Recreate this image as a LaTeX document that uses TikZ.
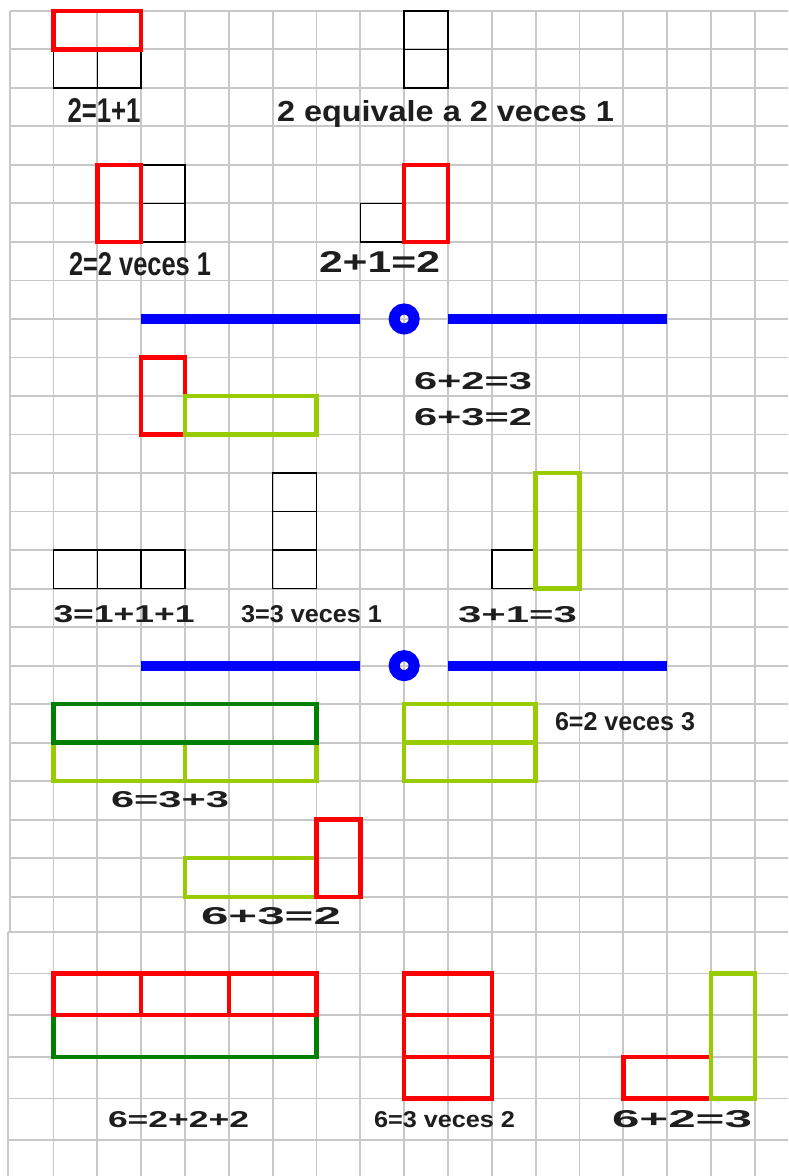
\documentclass[tikz,border=0pt]{standalone}
\usepackage{fontspec}
\setmainfont{Liberation Sans}
\usepackage{graphicx}
\definecolor{gridgray}{HTML}{C8C8C8}
\definecolor{redc}{HTML}{FF0000}
\definecolor{ygreen}{HTML}{99CC00}
\definecolor{dgreen}{HTML}{008000}
\definecolor{bluec}{HTML}{0000FF}
\definecolor{txtc}{HTML}{1E1E1E}
\begin{document}
\begin{tikzpicture}[x=0.5pt,y=-0.5pt,
  declare function={X(\i)=9.7+43.83*\i; Y(\j)=10.8+38.52*\j; B(\k)=931.7+41.7*\k;},
  gridl/.style={draw=gridgray,line width=0.9pt},
  blk/.style={draw=black,line width=0.8pt},
  redbox/.style={draw=redc,line width=2.25pt},
  ygbox/.style={draw=ygreen,line width=2.25pt},
  dgbox/.style={draw=dgreen,line width=2.25pt},
  blueline/.style={draw=bluec,line width=5pt,line cap=butt},
  bluering/.style={draw=bluec,line width=5.5pt},
  lbl/.style={inner sep=0pt,outer sep=0pt,anchor=base west,text=txtc,font=\bfseries}]
\fill[white] (0,0) rectangle (788,1176);
\useasboundingbox (0,0) rectangle (788,1176);
% ---------- grid, upper sheet ----------
\foreach \i in {0,...,17} \draw[gridl] ({X(\i)},{Y(0)}) -- ({X(\i)},931.7);
\foreach \j in {0,...,23} \draw[gridl] ({X(0)},{Y(\j)}) -- (788,{Y(\j)});
% ---------- grid, lower sheet ----------
\draw[gridl] (8,931.7) -- (8,1176);
\foreach \i in {1,...,17} \draw[gridl] ({X(\i)},931.7) -- ({X(\i)},1176);
\foreach \k in {0,...,5} \draw[gridl] (8,{B(\k)}) -- (788,{B(\k)});
% ---------- row 1 ----------
\draw[blk] ({X(1)},{Y(1)}) rectangle ({X(2)},{Y(2)});
\draw[blk] ({X(2)},{Y(1)}) rectangle ({X(3)},{Y(2)});
\draw[redbox] ({X(1)},{Y(0)}) rectangle ({X(3)},{Y(1)});
\node[lbl] (t1) at (67.5,123) {\resizebox{36.5pt}{12pt}{2=1+1}};
\draw[blk] ({X(9)},{Y(0)}) rectangle ({X(10)},{Y(1)});
\draw[blk] ({X(9)},{Y(1)}) rectangle ({X(10)},{Y(2)});
\node[lbl] (t2) at (277,121.5) {\resizebox{168.5pt}{10.5pt}{2 equivale a 2 veces 1}};
% ---------- row 2 ----------
\draw[blk] ({X(3)},{Y(4)}) rectangle ({X(4)},{Y(5)});
\draw[blk] ({X(3)},{Y(5)}) rectangle ({X(4)},{Y(6)});
\draw[redbox] ({X(2)},{Y(4)}) rectangle ({X(3)},{Y(6)});
\node[lbl] (t3) at (69,276) {\resizebox{71pt}{11.5pt}{2=2 veces 1}};
\draw[blk] ({X(8)},{Y(5)}) rectangle ({X(9)},{Y(6)});
\draw[redbox] ({X(9)},{Y(4)}) rectangle ({X(10)},{Y(6)});
\node[lbl] (t4) at (319,273) {\resizebox{60.5pt}{10.5pt}{2+1=2}};
% ---------- separator 1 ----------
\draw[blueline] ({X(3)},{Y(8)}) -- ({X(8)},{Y(8)});
\draw[bluering] ({X(9)},{Y(8)}) circle[radius=5pt];
\draw[blueline] ({X(10)},{Y(8)}) -- ({X(15)},{Y(8)});
% ---------- row 3 ----------
\draw[redbox] ({X(3)},{Y(9)}) rectangle ({X(4)},{Y(11)});
\draw[ygbox] ({X(4)},{Y(10)}) rectangle ({X(7)},{Y(11)});
\node[lbl] (t5) at (414,389) {\resizebox{59pt}{8.5pt}{6+2=3}};
\node[lbl] (t6) at (414,425) {\resizebox{59pt}{8.5pt}{6+3=2}};
% ---------- row 4 ----------
\foreach \i in {1,2,3} \draw[blk] ({X(\i)},{Y(14)}) rectangle ({X(\i+1)},{Y(15)});
\foreach \j in {12,13,14} \draw[blk] ({X(6)},{Y(\j)}) rectangle ({X(7)},{Y(\j+1)});
\draw[blk] ({X(11)},{Y(14)}) rectangle ({X(12)},{Y(15)});
\draw[ygbox] ({X(12)},{Y(12)}) rectangle ({X(13)},{Y(15)});
\node[lbl] (t7) at (53.5,622.5) {\resizebox{70.5pt}{8.5pt}{3=1+1+1}};
\node[lbl] (t8) at (241,622.5) {\resizebox{70.5pt}{8.5pt}{3=3 veces 1}};
\node[lbl] (t9) at (458,622.5) {\resizebox{59.5pt}{8pt}{3+1=3}};
% ---------- separator 2 ----------
\draw[blueline] ({X(3)},{Y(17)}) -- ({X(8)},{Y(17)});
\draw[bluering] ({X(9)},{Y(17)}) circle[radius=5pt];
\draw[blueline] ({X(10)},{Y(17)}) -- ({X(15)},{Y(17)});
% ---------- row 5 ----------
\draw[ygbox] ({X(1)},{Y(19)}) rectangle ({X(4)},{Y(20)});
\draw[ygbox] ({X(4)},{Y(19)}) rectangle ({X(7)},{Y(20)});
\draw[dgbox] ({X(1)},{Y(18)}) rectangle ({X(7)},{Y(19)});
\node[lbl] (t10) at (111,807.5) {\resizebox{59pt}{8pt}{6=3+3}};
\draw[ygbox] ({X(9)},{Y(18)}) rectangle ({X(12)},{Y(19)});
\draw[ygbox] ({X(9)},{Y(19)}) rectangle ({X(12)},{Y(20)});
\node[lbl] (t11) at (555,730) {\resizebox{70pt}{9pt}{6=2 veces 3}};
% ---------- row 6 ----------
\draw[ygbox] ({X(4)},{Y(22)}) rectangle ({X(7)},{Y(23)});
\draw[redbox] ({X(7)},{Y(21)}) rectangle ({X(8)},{Y(23)});
\node[lbl] (t12) at (201,924.5) {\resizebox{70pt}{8.5pt}{6+3=2}};
% ---------- lower sheet ----------
\draw[dgbox] ({X(1)},{B(2)}) rectangle ({X(7)},{B(3)});
\foreach \i in {1,3,5} \draw[redbox] ({X(\i)},{B(1)}) rectangle ({X(\i+2)},{B(2)});
\node[lbl] (t13) at (108,1127.5) {\resizebox{70.5pt}{8pt}{6=2+2+2}};
\foreach \k in {1,2,3} \draw[redbox] ({X(9)},{B(\k)}) rectangle ({X(11)},{B(\k+1)});
\node[lbl] (t14) at (374,1127.5) {\resizebox{70.5pt}{8pt}{6=3 veces 2}};
\draw[redbox] ({X(14)},{B(3)}) rectangle ({X(16)},{B(4)});
\draw[ygbox] ({X(16)},{B(1)}) rectangle ({X(17)},{B(4)});
\node[lbl] (t15) at (612,1127) {\resizebox{70pt}{8.5pt}{6+2=3}};
\end{tikzpicture}
\end{document}
